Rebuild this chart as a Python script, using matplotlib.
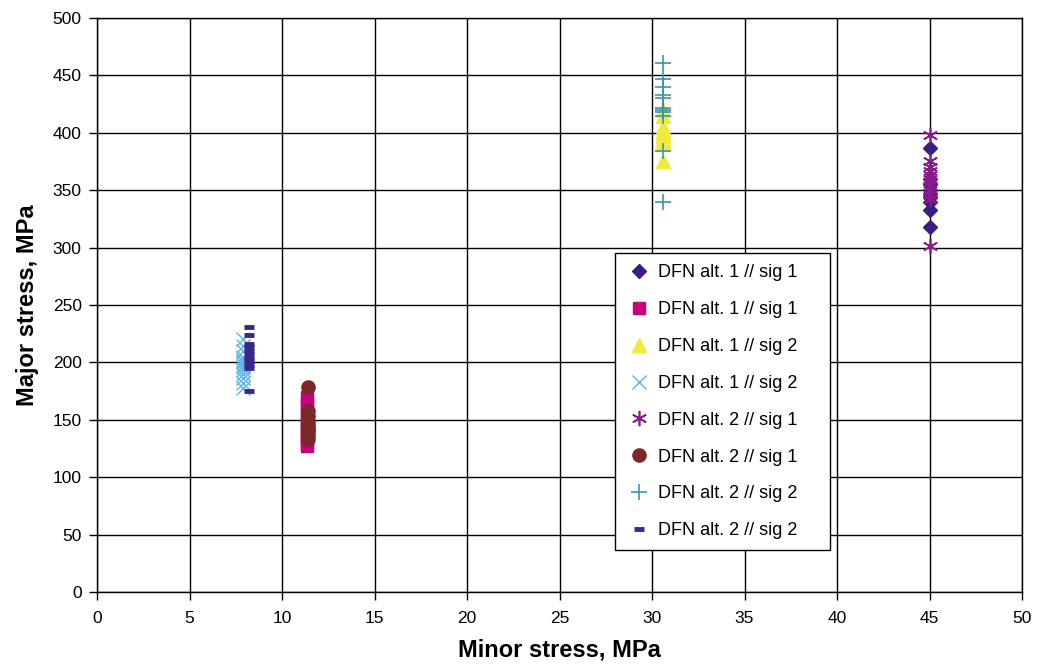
import matplotlib
matplotlib.use("Agg")
import matplotlib.pyplot as plt
import numpy as np

plt.rcParams['font.family'] = ['Liberation Sans', 'DejaVu Sans']

labels = ["DFN alt. 1 // sig 1", "DFN alt. 1 // sig 1", "DFN alt. 1 // sig 2", "DFN alt. 1 // sig 2",
          "DFN alt. 2 // sig 1", "DFN alt. 2 // sig 1", "DFN alt. 2 // sig 2", "DFN alt. 2 // sig 2"]

# minor stress (x) for each series
x_vals = [45.0, 11.35, 30.6, 7.9, 45.0, 11.4, 30.6, 8.2]

# major stress (y) values per series
s1_diamond = [387, 360, 355, 350, 347, 344, 340, 333, 318]
s2_square = [170, 165, 160, 155, 150, 147, 143, 140, 137, 133, 130, 127]
s3_triangle = [420, 415, 405, 402, 400, 397, 395, 392, 390, 375]
s4_xmark = [220, 214, 210, 205, 202, 200, 198, 196, 193, 190, 186, 182, 178]
s5_star = [398, 375, 370, 367, 363, 360, 357, 354, 350, 346, 342, 301]
s6_circle = [179, 158, 153, 148, 145, 142, 140, 137, 133]
s7_plus = [461, 447, 440, 433, 430, 422, 420, 418, 415, 384, 340]
s8_dash = [231, 224, 216, 213, 210, 207, 204, 201, 198, 195, 175]

y_series = [s1_diamond, s2_square, s3_triangle, s4_xmark, s5_star, s6_circle, s7_plus, s8_dash]

colors = ["#3b1f80", "#c8007c", "#f0ea3c", "#5cb4ea", "#8a1a8c", "#7a2828", "#3a96a8", "#3a2888"]
markers = ["D", "s", "^", "x", (6, 2, 0), "o", "+", "_"]
sizes = [7.5, 8.5, 10, 10, 11, 9.5, 11, 7]
mews = [1, 1, 1, 1, 1.2, 1, 1.2, 3.5]

fig = plt.figure(figsize=(10.38, 6.68), dpi=100)
ax = fig.add_axes([97/1038, 1-592/668, 925/1038, 574/668])

for xv, ys, c, m, ms, mew, lab in zip(x_vals, y_series, colors, markers, sizes, mews, labels):
    ax.plot([xv]*len(ys), ys, linestyle='none', marker=m, color=c, markersize=ms,
            markeredgewidth=mew, markerfacecolor=c, markeredgecolor=c, label=lab, zorder=3)

ax.set_xlim(0, 50)
ax.set_ylim(0, 500)
ax.set_xticks(np.arange(0, 51, 5))
ax.set_yticks(np.arange(0, 501, 50))
ax.grid(True, color='black', linewidth=1.0)
ax.set_axisbelow(True)
for sp in ax.spines.values():
    sp.set_color('black')
    sp.set_linewidth(1.0)
ax.tick_params(axis='both', labelsize=12.5, direction='out', length=6, width=1)
ax.tick_params(axis='x', pad=8)
ax.tick_params(axis='y', pad=5)
ax.set_xlabel("Minor stress, MPa", fontsize=17, fontweight='bold', labelpad=9)
ax.set_ylabel("Major stress, MPa", fontsize=17, fontweight='bold', labelpad=10)

leg = ax.legend(loc='lower left', bbox_to_anchor=(0.56, 0.073, 0.2325, 0.51), mode='expand',
                fontsize=13, frameon=True, fancybox=False, framealpha=1, edgecolor='black',
                labelspacing=1.1, handletextpad=0.3, borderpad=0.6, handlelength=1.5,
                borderaxespad=0)
leg.get_frame().set_linewidth(1.0)
leg.set_zorder(5)

fig.savefig("out.png", dpi=100)
